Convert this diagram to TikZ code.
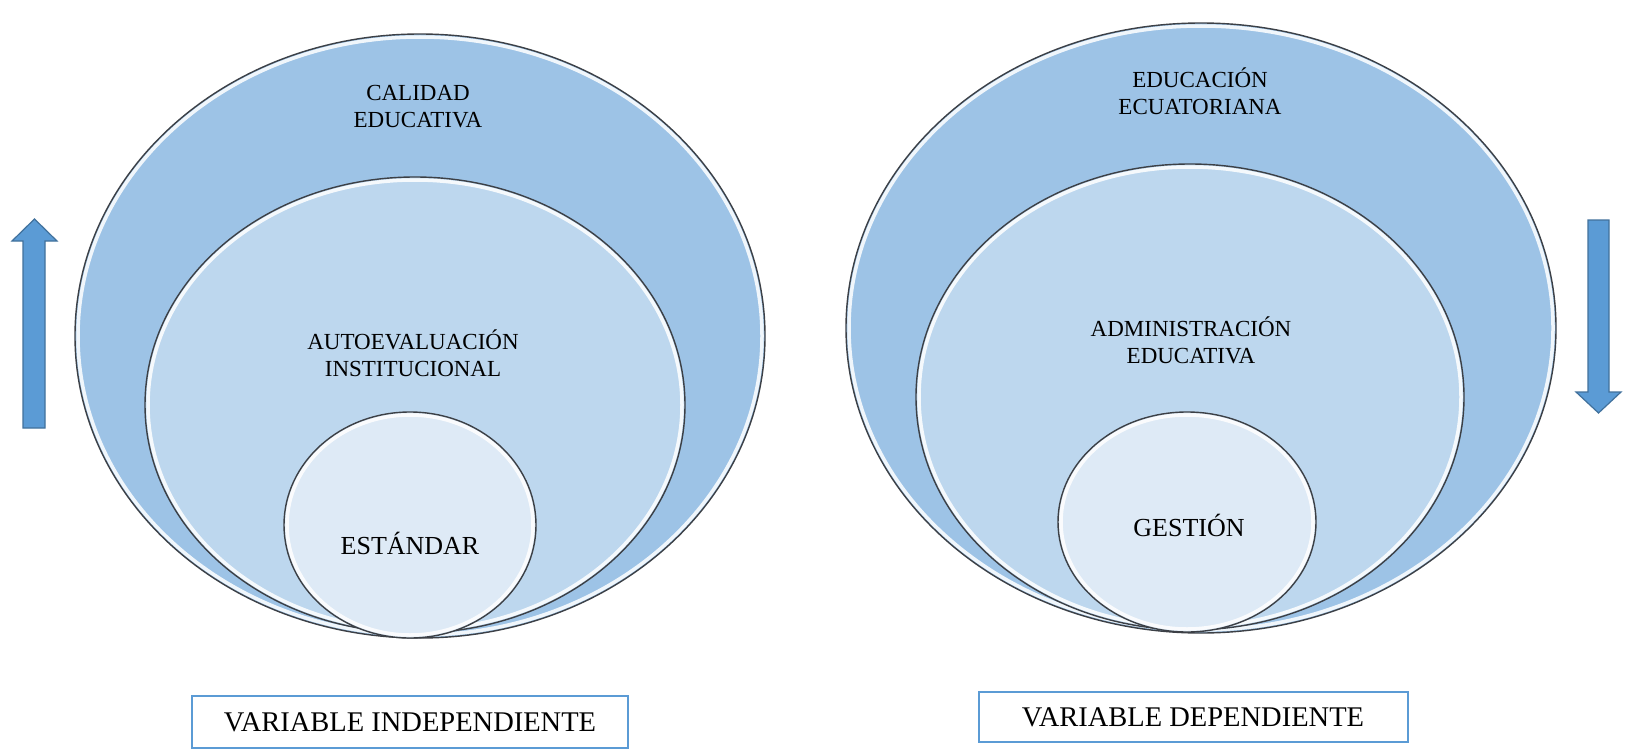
\documentclass[tikz,border=0pt]{standalone}
\usepackage{fontspec}
\setmainfont{Liberation Serif}
\begin{document}
\begin{tikzpicture}[x=1pt,y=-1pt,
  outerfill/.style={fill=outerblue},
  midfill/.style={fill=midblue},
  innerfill/.style={fill=innerblue},
  glow/.style={draw=white,line width=3.5pt,opacity=0.85},
  rim/.style={draw=rimgray,line width=1.4pt},
  lbl/.style={align=center,font=\fontsize{23}{27}\selectfont,inner sep=0pt},
  lblin/.style={align=center,font=\fontsize{26}{30}\selectfont,inner sep=0pt},
  varbox/.style={draw=boxblue,line width=2.6pt,fill=white},
  varlbl/.style={font=\fontsize{28.5}{32}\selectfont,inner sep=0pt},
  fatarrow/.style={fill=arrowblue,draw=arrowedge,line width=1.2pt,line join=miter}]
\definecolor{outerblue}{RGB}{157,195,230}
\definecolor{midblue}{RGB}{189,215,238}
\definecolor{innerblue}{RGB}{222,234,246}
\definecolor{rimgray}{RGB}{60,64,70}
\definecolor{boxblue}{RGB}{91,155,213}
\definecolor{arrowblue}{RGB}{91,155,213}
\definecolor{arrowedge}{RGB}{65,113,156}
\useasboundingbox (0,0) rectangle (1627,752);
\fill[white] (0,0) rectangle (1627,752);

% ---------- left group ----------
\coordinate (LO) at (420,336);
\coordinate (LM) at (415,405);
\coordinate (LI) at (410,525);
\path[outerfill] (LO) ellipse [x radius=345,y radius=302];
\draw[glow] (LO) ellipse [x radius=342,y radius=299];
\draw[rim] (LO) ellipse [x radius=345,y radius=302];
\path[midfill] (LM) ellipse [x radius=270,y radius=228];
\draw[glow] (LM) ellipse [x radius=267,y radius=225];
\draw[rim] (LM) ellipse [x radius=270,y radius=228];
\path[innerfill] (LI) ellipse [x radius=126,y radius=113];
\draw[glow] (LI) ellipse [x radius=123,y radius=110];
\draw[rim] (LI) ellipse [x radius=126,y radius=113];

\node[lbl] (calidad) at (418,107) {CALIDAD\\EDUCATIVA};
\node[lbl] (autoev) at (413,353) {AUTOEVALUACIÓN\\INSTITUCIONAL};
\node[lblin] (estandar) at (410,543) {ESTÁNDAR};

% ---------- right group ----------
\coordinate (RO) at (1201,328);
\coordinate (RM) at (1190,397);
\coordinate (RI) at (1187,522);
\path[outerfill] (RO) ellipse [x radius=355,y radius=305];
\draw[glow] (RO) ellipse [x radius=352,y radius=302];
\draw[rim] (RO) ellipse [x radius=355,y radius=305];
\path[midfill] (RM) ellipse [x radius=274,y radius=233];
\draw[glow] (RM) ellipse [x radius=271,y radius=230];
\draw[rim] (RM) ellipse [x radius=274,y radius=233];
\path[innerfill] (RI) ellipse [x radius=129,y radius=110];
\draw[glow] (RI) ellipse [x radius=126,y radius=107];
\draw[rim] (RI) ellipse [x radius=129,y radius=110];

\node[lbl] (educacion) at (1200,91) {EDUCACIÓN\\ECUATORIANA};
\node[lbl] (admin) at (1191,340) {ADMINISTRACIÓN\\EDUCATIVA};
\node[lblin] (gestion) at (1189,525) {GESTIÓN};

% ---------- arrows ----------
\draw[fatarrow] (23,428) -- (23,241) -- (12,241) -- (34.5,219) -- (57,241) -- (45,241) -- (45,428) -- cycle;
\draw[fatarrow] (1588,220) -- (1609,220) -- (1609,392) -- (1621,392) -- (1598.5,413) -- (1576,392) -- (1588,392) -- cycle;

% ---------- boxes ----------
\draw[varbox] (192,696) rectangle (628,748);
\node[varlbl] (indep) at (410,722) {VARIABLE INDEPENDIENTE};
\draw[varbox] (979,692) rectangle (1408,742);
\node[varlbl] (dep) at (1193,717) {VARIABLE DEPENDIENTE};
\end{tikzpicture}
\end{document}
